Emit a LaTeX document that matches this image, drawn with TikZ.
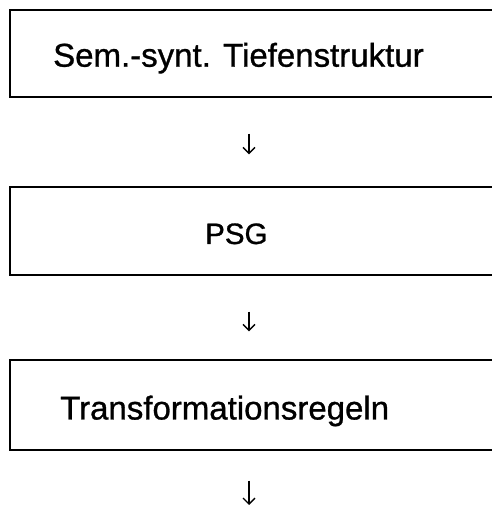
\documentclass[tikz,border=0pt]{standalone}
\usepackage{fontspec}
\setmainfont{Liberation Sans}
\newfontfamily\stagefont[FakeBold=0.9]{Liberation Sans}
\usepackage{xcolor}
\usepackage{tikz}
\usetikzlibrary{calc,arrows.meta}

\begin{document}
\begin{tikzpicture}[x=1pt,y=1pt,
  stage/.style={draw, line width=1.4pt, minimum width=484pt, inner sep=0pt},
  stagetext/.style={font=\stagefont\fontsize{33}{40}\selectfont, anchor=base west, inner sep=0pt},
  flow/.style={line width=1.4pt, -{Straight Barb[length=6pt,width=12pt]}}]
\useasboundingbox (0,0) rectangle (491,508);

\node[stage, minimum height=87pt] (tief) at (252,454.5) {};
\node[stagetext] (tieftext) at (53,441.3) {Sem.-synt. Tiefenstruktur};

\node[stage, minimum height=88pt] (psg) at (252,277) {};
\node[stagetext, font=\stagefont\fontsize{29.5}{36}\selectfont] (psgtext) at (205,264) {PSG};

\node[stage, minimum height=90pt] (trans) at (252,103) {};
\node[stagetext] (transtext) at (60,88.5) {Transformationsregeln};

\coordinate (out) at (249,3);

\draw[flow, shorten <=36pt, shorten >=32pt] ([xshift=-3pt]tief.south) -- ([xshift=-3pt]psg.north);
\draw[flow, shorten <=36pt, shorten >=28pt] ([xshift=-3pt]psg.south) -- ([xshift=-3pt]trans.north);
\draw[flow, shorten <=30pt] ([xshift=-3pt]trans.south) -- (out);
\end{tikzpicture}
\end{document}
